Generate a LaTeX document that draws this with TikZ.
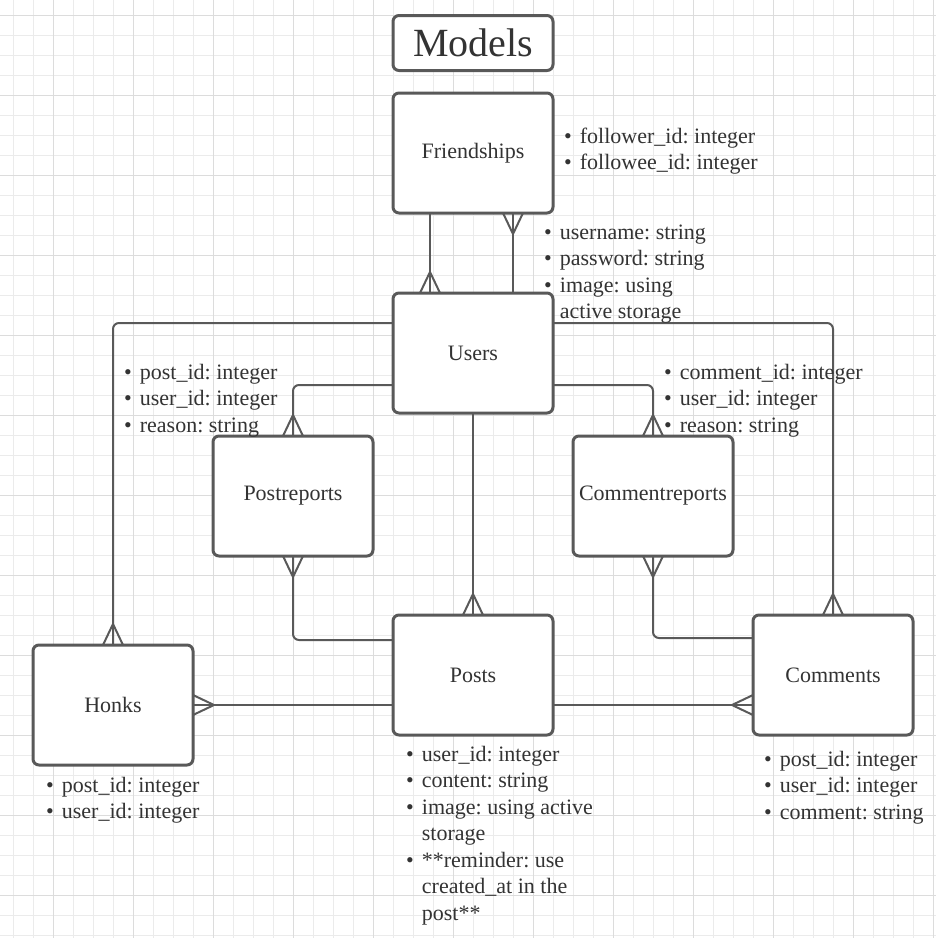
\documentclass[tikz,border=0pt]{standalone}
\usepackage{fontspec}
\setmainfont{Liberation Serif}
\frenchspacing

\definecolor{ink}{HTML}{333333}
\definecolor{edge}{HTML}{595959}
\definecolor{gridminor}{HTML}{EBEBEB}
\definecolor{gridmajor}{HTML}{DCDCDC}

\tikzset{
  entity/.style={draw=edge, line width=3pt, fill=white, rounded corners=6pt, outer sep=0pt,
    minimum width=160pt, minimum height=120pt, text=ink, font=\fontsize{22}{26}\selectfont},
  link/.style={draw=edge, line width=2pt, rounded corners=6pt},
  attrs/.style={anchor=north west, inner sep=0pt, text=ink, font=\fontsize{22}{26.5}\selectfont},
  many/.pic={\draw[link, sharp corners] (-10,0) -- (0,-21) -- (10,0);},
}

\newcommand{\attrlist}[1]{\begin{tabular}{@{}l@{\hspace{8pt}}l@{}}#1\end{tabular}}

\begin{document}
\begin{tikzpicture}[x=1pt, y=-1pt]
\useasboundingbox (0,0) rectangle (936,938);%
% grid
\foreach \x in {13,33,...,933} \draw[gridminor, line width=1pt] (\x,0) -- (\x,938);%
\foreach \y in {15,35,...,935} \draw[gridminor, line width=1pt] (0,\y) -- (936,\y);%
\foreach \x in {53,133,...,933} \draw[gridmajor, line width=1pt] (\x,0) -- (\x,938);%
\foreach \y in {15,95,...,935} \draw[gridmajor, line width=1pt] (0,\y) -- (936,\y);%
% entities
\node[entity, minimum height=55pt, font=\fontsize{40}{46}\selectfont] (title) at (473, 43) {Models};%
\node[entity] (friendships) at (473, 153) {Friendships};%
\node[entity] (users) at (473, 353) {Users};%
\node[entity] (postreports) at (293, 496) {Postreports};%
\node[entity] (commentreports) at (653, 496) {Commentreports};%
\node[entity] (posts) at (473, 675) {Posts};%
\node[entity] (honks) at (113, 705) {Honks};%
\node[entity] (comments) at (833, 675) {Comments};%
% relations
\draw[link] ([xshift=-43pt]friendships.south) -- ([xshift=-43pt]users.north);%
\draw[link] ([xshift=40pt]friendships.south) -- ([xshift=40pt]users.north);%
\draw[link] ([yshift=30pt]users.west) -| (honks.north);%
\draw[link] ([yshift=-32pt]users.west) -| (postreports.north);%
\draw[link] ([yshift=30pt]users.east) -| (comments.north);%
\draw[link] ([yshift=-32pt]users.east) -| (commentreports.north);%
\draw[link] (users.south) -- (posts.north);%
\draw[link] ([yshift=35pt]posts.west) -| (postreports.south);%
\draw[link] ([yshift=37pt]comments.west) -| (commentreports.south);%
\draw[link] ([yshift=-30pt]posts.west) -- (honks.east);%
\draw[link] ([yshift=-30pt]posts.east) -- ([yshift=-30pt]comments.west);%
% crow's feet
\pic at ([xshift=-43pt]users.north) {many};%
\pic[rotate=180] at ([xshift=40pt]friendships.south) {many};%
\pic at (honks.north) {many};%
\pic at (postreports.north) {many};%
\pic at (commentreports.north) {many};%
\pic at (comments.north) {many};%
\pic at (posts.north) {many};%
\pic[rotate=180] at (postreports.south) {many};%
\pic[rotate=180] at (commentreports.south) {many};%
\pic[rotate=-90] at (honks.east) {many};%
\pic[rotate=90] at ([yshift=-30pt]comments.west) {many};%
% attributes
\node[attrs] (friendshipattrs) at (564, 124.5) {\attrlist{\textbullet & follower\_id: integer\\ \textbullet & followee\_id: integer}};%
\node[attrs] (userattrs) at (544, 220.5) {\attrlist{\textbullet & username: string\\ \textbullet & password: string\\ \textbullet & image: using\\ & active storage}};%
\node[attrs] (postreportattrs) at (124, 360.5) {\attrlist{\textbullet & post\_id: integer\\ \textbullet & user\_id: integer\\ \textbullet & reason: string}};%
\node[attrs] (commentreportattrs) at (664, 360.5) {\attrlist{\textbullet & comment\_id: integer\\ \textbullet & user\_id: integer\\ \textbullet & reason: string}};%
\node[attrs] (postattrs) at (406, 742.5) {\attrlist{\textbullet & user\_id: integer\\ \textbullet & content: string\\ \textbullet & image: using active\\ & storage\\ \textbullet & **reminder: use\\ & created\_at in the\\ & post**}};%
\node[attrs] (honkattrs) at (46, 773.5) {\attrlist{\textbullet & post\_id: integer\\ \textbullet & user\_id: integer}};%
\node[attrs] (commentattrs) at (764, 747.5) {\attrlist{\textbullet & post\_id: integer\\ \textbullet & user\_id: integer\\ \textbullet & comment: string}};%
\end{tikzpicture}
\end{document}
